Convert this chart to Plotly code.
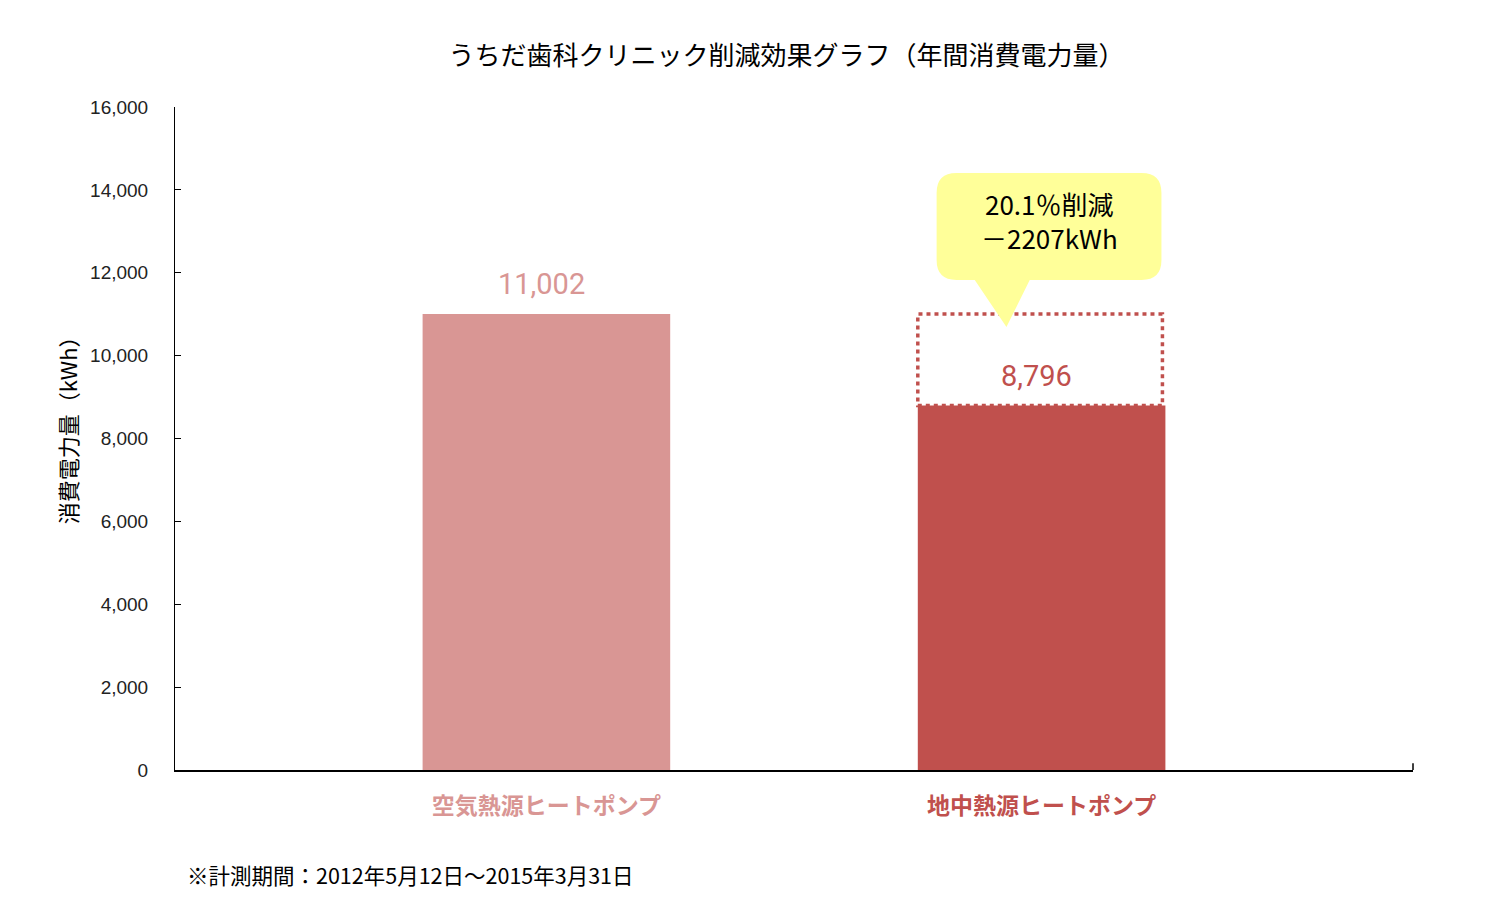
import plotly.graph_objects as go

# data
categories = ["空気熱源ヒートポンプ", "地中熱源ヒートポンプ"]
values = [11002, 8796]
bar_colors = ["#D99694", "#C0504D"]
y_ticks = [0, 2000, 4000, 6000, 8000, 10000, 12000, 14000, 16000]
callout_lines = ["20.1％削減", "－2207kWh"]
footnote = "※計測期間：2012年5月12日～2015年3月31日"

JP_FONT = "Noto Sans CJK JP"
x_pos = list(range(len(categories)))
BAR_W = 0.5

fig = go.Figure()

fig.add_trace(go.Bar(
    x=x_pos,
    y=values,
    width=BAR_W,
    marker=dict(color=bar_colors, line=dict(width=0)),
    hoverinfo="skip",
    showlegend=False
))

# value labels above bars
for xi, v, c in zip(x_pos, values, bar_colors):
    fig.add_annotation(
        x=xi - 0.01, y=v, text=f"{v:,}", showarrow=False,
        yanchor="middle", yshift=30,
        font=dict(family="Roboto", size=29, color=c)
    )

# dotted box showing the reduction (from bar 2 up to bar 1 height)
fig.add_shape(
    type="rect", xref="x", yref="y",
    x0=x_pos[1] - BAR_W / 2, x1=x_pos[1] + BAR_W / 2 - 0.006,
    y0=values[1], y1=values[0],
    line=dict(color=bar_colors[1], width=3.5, dash="4px,4px"),
    fillcolor="rgba(0,0,0,0)"
)

# speech-bubble callout (data coords around bar 2)
bx0, bx1 = 0.788, 1.242
by0, by1 = 11825, 14407
rx, ry = 0.04, 480
px0, px1, ptx, pty = 0.865, 0.976, 0.929, 10691
path = (
    f"M {bx0 + rx},{by1} L {bx1 - rx},{by1} Q {bx1},{by1} {bx1},{by1 - ry} "
    f"L {bx1},{by0 + ry} Q {bx1},{by0} {bx1 - rx},{by0} "
    f"L {px1},{by0} L {ptx},{pty} L {px0},{by0} "
    f"L {bx0 + rx},{by0} Q {bx0},{by0} {bx0},{by0 + ry} "
    f"L {bx0},{by1 - ry} Q {bx0},{by1} {bx0 + rx},{by1} Z"
)
fig.add_shape(type="path", xref="x", yref="y", path=path,
              fillcolor="#FFFF99", line=dict(width=0), layer="above")
for i, line in enumerate(callout_lines):
    fig.add_annotation(
        x=(bx0 + bx1) / 2, y=by1, yanchor="middle", yshift=-30 - 34 * i,
        text=line, showarrow=False,
        font=dict(family=JP_FONT, size=26, color="black")
    )

# right end tick of x axis
fig.add_shape(type="line", xref="paper", yref="paper",
              x0=1, x1=1, y0=0, y1=0.01, line=dict(color="black", width=1.5))

# y axis title
fig.add_annotation(
    xref="paper", yref="paper", x=-0.0872, y=0.52,
    xanchor="center", yanchor="middle", textangle=-90,
    text="消費電力量（kWh）", showarrow=False,
    font=dict(family=JP_FONT, size=22, color="black")
)

# footnote
fig.add_annotation(
    xref="paper", yref="paper", x=0.008, y=-0.158, xanchor="left", yanchor="middle",
    text=footnote, showarrow=False,
    font=dict(family=JP_FONT, size=21.5, color="black")
)

ticktext = [
    f"<b><span style='color:{c}'>{t}</span></b>" for t, c in zip(categories, bar_colors)
]

fig.update_layout(
    width=1503,
    height=914,
    paper_bgcolor="white",
    plot_bgcolor="white",
    margin=dict(l=167, r=98, t=99, b=152),
    title=dict(
        text="うちだ歯科クリニック削減効果グラフ（年間消費電力量）",
        x=0.518, xanchor="center", y=0.948, yanchor="middle",
        font=dict(family=JP_FONT, size=26, color="black")
    ),
    xaxis=dict(
        range=[-0.75, 1.75],
        tickvals=x_pos,
        ticktext=ticktext,
        ticks="",
        showgrid=False,
        zeroline=False,
        showline=True,
        linecolor="black",
        linewidth=1.5,
        ticklabelstandoff=15,
        tickfont=dict(family=JP_FONT, size=23)
    ),
    yaxis=dict(
        range=[0, 16000],
        tickvals=y_ticks,
        tickformat=",",
        ticks="inside",
        ticklen=6,
        tickcolor="black",
        showgrid=False,
        zeroline=False,
        showline=True,
        linecolor="black",
        linewidth=1,
        ticklabelstandoff=22,
        tickfont=dict(family="Liberation Sans", size=19, color="#222222")
    ),
    bargap=0.5
)

fig.write_html("out.html")
